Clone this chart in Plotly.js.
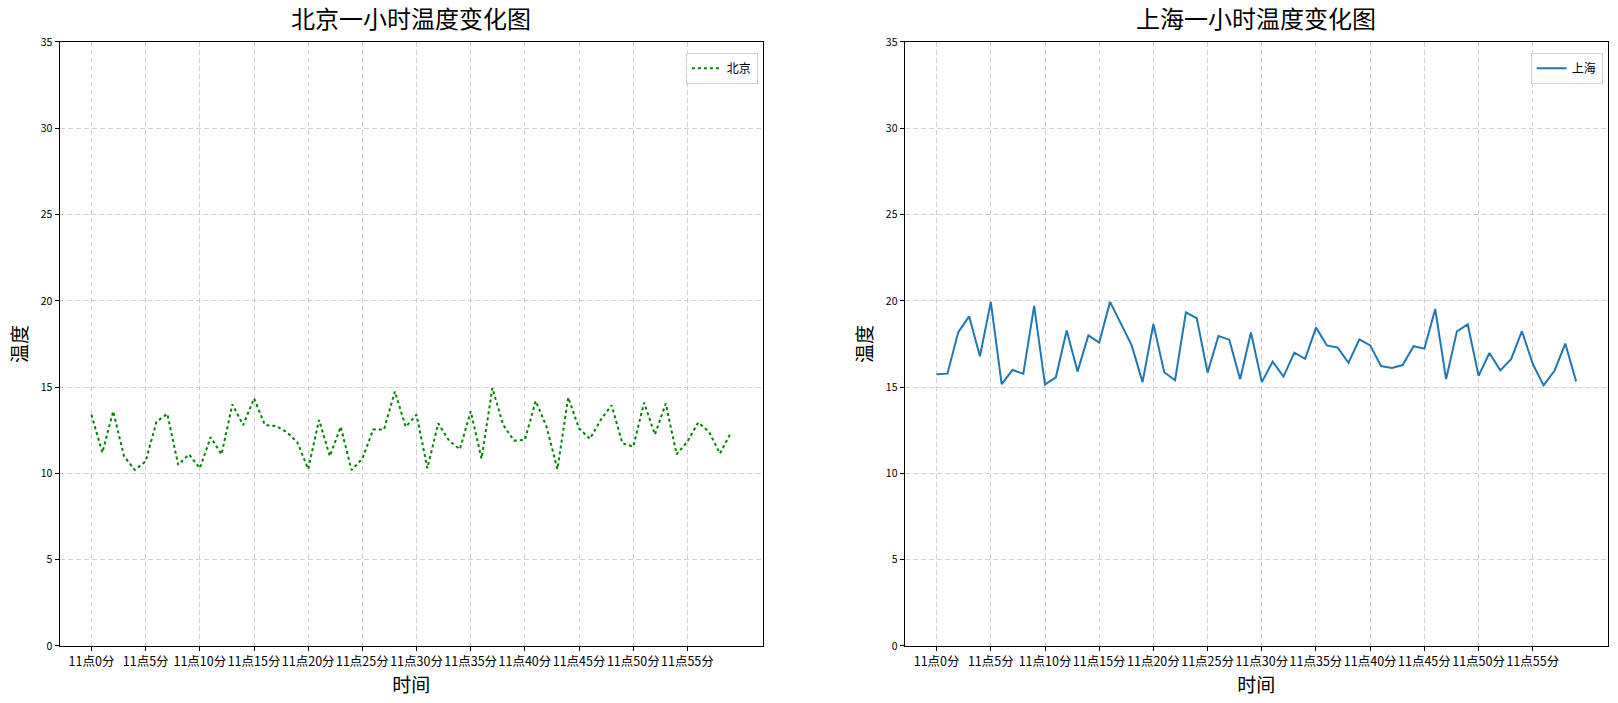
<!DOCTYPE html>
<html>
<head>
<meta charset="utf-8">
<script src="https://cdn.plot.ly/plotly-3.0.1.min.js"></script>
<style>html,body{margin:0;padding:0;background:#fff;}#chart{width:1618px;height:703px;}</style>
</head>
<body>
<div id="chart"></div>
<script>
// Categories: minutes 11:00 - 11:59
const minutes = Array.from({length: 60}, (_, i) => '11点' + i + '分');
const tickLabels = ['11点0分','11点5分','11点10分','11点15分','11点20分','11点25分','11点30分','11点35分','11点40分','11点45分','11点50分','11点55分'];

const beijing = [
  13.4, 11.2, 13.6, 11.0, 10.2, 10.7, 13.0, 13.45, 10.5, 11.1,
  10.3, 12.1, 11.1, 14.0, 12.8, 14.35, 12.8, 12.75, 12.4, 11.8,
  10.25, 13.1, 11.0, 12.7, 10.2, 10.85, 12.55, 12.55, 14.75, 12.7,
  13.4, 10.3, 12.9, 11.9, 11.4, 13.6, 10.85, 14.95, 12.8, 11.9,
  11.95, 14.2, 12.7, 10.25, 14.4, 12.6, 12.0, 13.1, 13.95, 11.75,
  11.55, 14.1, 12.25, 14.05, 11.1, 11.85, 12.95, 12.4, 11.15, 12.35
];
const shanghai = [
  15.74, 15.78, 18.19, 19.1, 16.79, 19.94, 15.17, 15.99, 15.78, 19.71,
  15.15, 15.57, 18.28, 15.9, 18.0, 17.58, 19.94, 18.7, 17.42, 15.29,
  18.66, 15.86, 15.4, 19.33, 18.99, 15.84, 17.96, 17.75, 15.46, 18.17,
  15.29, 16.47, 15.61, 17.0, 16.64, 18.45, 17.42, 17.29, 16.41, 17.77,
  17.42, 16.22, 16.11, 16.28, 17.37, 17.23, 19.52, 15.46, 18.23, 18.63,
  15.65, 16.98, 15.97, 16.62, 18.24, 16.34, 15.1, 15.95, 17.52, 15.32
];
const yTicks = [0, 5, 10, 15, 20, 25, 30, 35];

const FONT = '"Noto Sans CJK SC", "Noto Sans", sans-serif';
const GRID = 'rgba(190,190,190,0.7)';
const tickAxesX = (dom) => ({
  domain: dom, type: 'category', range: [-2.95, 61.95],
  tickmode: 'array', tickvals: tickLabels, ticktext: tickLabels,
  showline: true, linecolor: '#000', linewidth: 1, mirror: true,
  ticks: 'outside', ticklen: 4, tickcolor: '#000',
  showgrid: true, gridcolor: GRID, griddash: '5px,3px', gridwidth: 1,
  zeroline: false, tickfont: {family: FONT, size: 12.5, color: '#000'},
  tickangle: 0,
  title: {text: '时间', font: {family: FONT, size: 19, color: '#000'}, standoff: 6}
});
const tickAxesY = (anchor) => ({
  domain: [0.0811, 0.9403], range: [0, 35], anchor: anchor,
  tickmode: 'array', tickvals: yTicks,
  showline: true, linecolor: '#000', linewidth: 1, mirror: true,
  ticks: 'outside', ticklen: 4, tickcolor: '#000',
  showgrid: true, gridcolor: GRID, griddash: '5px,3px', gridwidth: 1,
  zeroline: false, tickfont: {family: FONT, size: 10.5, color: '#000'},
  title: {text: '温度', font: {family: FONT, size: 19, color: '#000'}, standoff: 8}
});

const data = [
  {x: minutes, y: beijing, type: 'scatter', mode: 'lines', name: '北京',
   line: {color: 'green', width: 2, dash: 'dot'}, xaxis: 'x', yaxis: 'y', legend: 'legend'},
  {x: minutes, y: shanghai, type: 'scatter', mode: 'lines', name: '上海',
   line: {color: '#1f77b4', width: 2}, xaxis: 'x2', yaxis: 'y2', legend: 'legend2'}
];

const legendStyle = (x) => ({
  x: x, xanchor: 'right', y: 0.925, yanchor: 'top',
  bgcolor: 'rgba(255,255,255,0.8)', bordercolor: '#d0d0d0', borderwidth: 1,
  font: {family: FONT, size: 12, color: '#000'}
});

const layout = {
  width: 1618, height: 703,
  margin: {l: 0, r: 0, t: 0, b: 0},
  paper_bgcolor: '#fff', plot_bgcolor: '#fff',
  showlegend: true,
  xaxis: Object.assign(tickAxesX([0.0368, 0.4714]), {anchor: 'y'}),
  yaxis: tickAxesY('x'),
  xaxis2: Object.assign(tickAxesX([0.5591, 0.9939]), {anchor: 'y2'}),
  yaxis2: tickAxesY('x2'),
  legend: legendStyle(0.4684),
  legend2: legendStyle(0.9905),
  annotations: [
    {text: '北京一小时温度变化图', xref: 'paper', yref: 'paper', x: 0.2541, y: 0.948,
     xanchor: 'center', yanchor: 'bottom', showarrow: false,
     font: {family: FONT, size: 24, color: '#000'}},
    {text: '上海一小时温度变化图', xref: 'paper', yref: 'paper', x: 0.7765, y: 0.948,
     xanchor: 'center', yanchor: 'bottom', showarrow: false,
     font: {family: FONT, size: 24, color: '#000'}}
  ]
};

Plotly.newPlot('chart', data, layout, {displayModeBar: false, staticPlot: true});
</script>
</body>
</html>
